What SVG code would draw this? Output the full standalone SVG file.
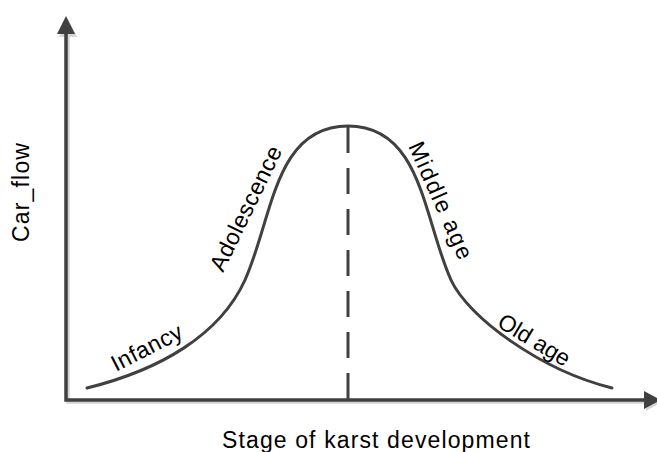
<svg xmlns="http://www.w3.org/2000/svg" width="657" height="452" viewBox="0 0 657 452">
<style>
.ax{stroke:#404040;stroke-width:3.5;fill:none}
.sh{stroke:#d4d4d4;stroke-width:3.5;fill:none}
.ah{fill:#404040}
.ahs{fill:#d4d4d4}
.cv{stroke:#404040;stroke-width:3;fill:none;stroke-linecap:round}
.dash{stroke:#404040;stroke-width:3;fill:none;stroke-dasharray:26 15}
.t{font-family:"Liberation Sans",Arial,sans-serif;font-size:23px;fill:#000}
</style>
<rect width="657" height="452" fill="#fff"/>
<g id="axes">
  <path class="sh" d="M68,34 V402 H646"/>
  <polygon class="ahs" points="68,19 59,37 77,37"/>
  <polygon class="ahs" points="646,393 646,411 662,402"/>
  <path class="ax" d="M66,32 V400 H646"/>
  <polygon class="ah" points="66,16 57,34 75,34"/>
  <polygon class="ah" points="644,391 644,409 661,400"/>
</g>
<g id="connectors">
  <path id="curve" class="cv" d="M87,388 C160,370 220,335 245,280 C272.6,218.7 274,126 348,126 C422,126 423.4,218.7 451,280 C468,317 540,370 612,388"/>
  <line id="peak-line" class="dash" x1="348" y1="127" x2="348" y2="400"/>
</g>
<g id="label-y"><text class="t" transform="translate(29,242) rotate(-90)" textLength="99" lengthAdjust="spacing">Car_flow</text></g>
<g id="label-x"><text class="t" x="222" y="448" textLength="308" lengthAdjust="spacing">Stage of karst development</text></g>
<g id="stage-infancy"><text class="t" transform="translate(116,372) rotate(-27)" textLength="77" lengthAdjust="spacing">Infancy</text></g>
<g id="stage-adolescence"><text class="t" transform="translate(223,273) rotate(-64)" textLength="136" lengthAdjust="spacing">Adolescence</text></g>
<g id="stage-middle"><text class="t" transform="translate(408,146) rotate(66)" textLength="126" lengthAdjust="spacing">Middle age</text></g>
<g id="stage-old"><text class="t" transform="translate(496,326) rotate(31)" textLength="80" lengthAdjust="spacing">Old age</text></g>
</svg>
